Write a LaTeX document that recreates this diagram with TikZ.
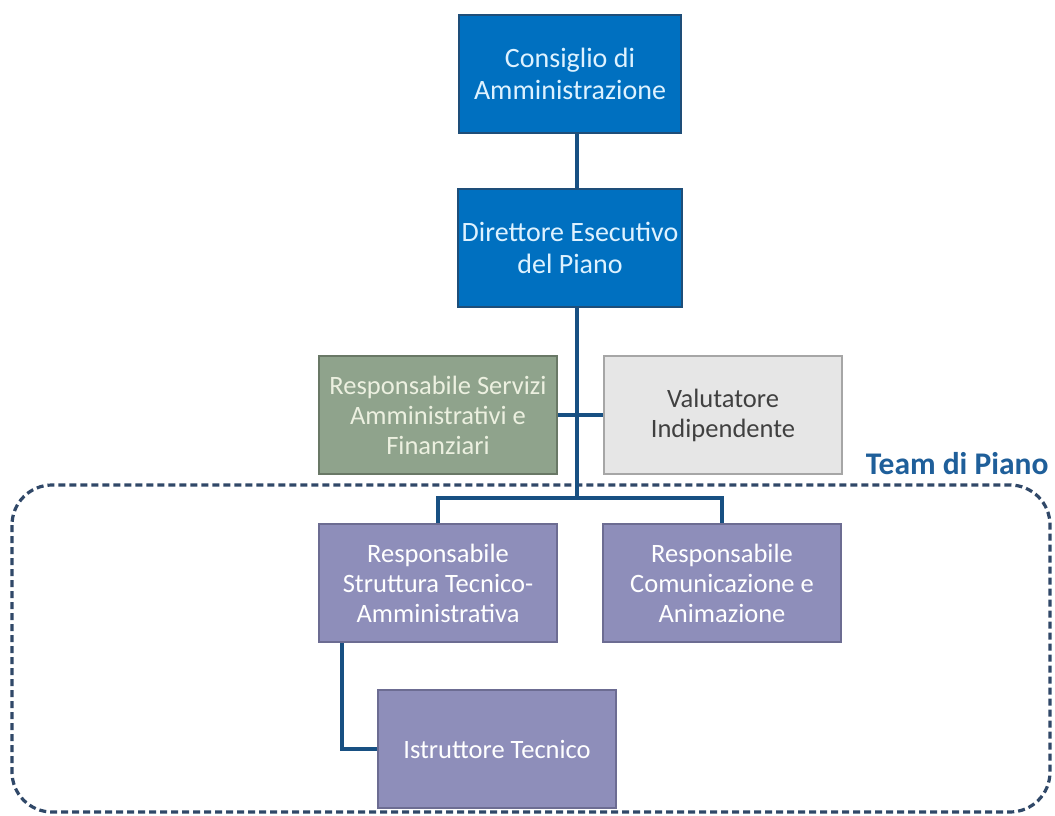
\documentclass[tikz,border=0pt]{standalone}
\usepackage{fontspec}
\setmainfont{Carlito}
\usetikzlibrary{calc}

\definecolor{bluebox}{RGB}{0,112,192}
\definecolor{blueedge}{RGB}{30,78,121}
\definecolor{bluetext}{RGB}{222,242,255}
\definecolor{greenbox}{RGB}{143,163,140}
\definecolor{greenedge}{RGB}{105,120,102}
\definecolor{greentext}{RGB}{236,240,224}
\definecolor{greybox}{RGB}{230,230,230}
\definecolor{greyedge}{RGB}{166,166,166}
\definecolor{greytext}{RGB}{64,64,64}
\definecolor{lilacbox}{RGB}{142,142,186}
\definecolor{lilacedge}{RGB}{108,108,146}
\definecolor{linkblue}{RGB}{24,80,130}
\definecolor{teamdash}{RGB}{48,72,104}
\definecolor{teamblue}{RGB}{31,95,154}

\tikzset{
  box/.style={draw, line width=2pt, minimum width=238pt, minimum height=118pt,
    align=center, inner sep=4pt, font=\fontsize{26.5}{30}\selectfont},
  topbox/.style={box, fill=bluebox, draw=blueedge, text=bluetext, minimum width=222pt,
    font=\fontsize{28}{32}\selectfont},
  adminbox/.style={box, fill=greenbox, draw=greenedge, text=greentext},
  evalbox/.style={box, fill=greybox, draw=greyedge, text=greytext},
  teambox/.style={box, fill=lilacbox, draw=lilacedge, text=white},
  link/.style={draw=linkblue, line width=3.5pt},
}

\begin{document}
\begin{tikzpicture}[x=1pt, y=-1pt]
    \useasboundingbox[fill=white] (0,0) rectangle (1055,816);
    \coordinate(spine)at(577,0);
    \coordinate(split)at(577,498);

    % team di piano
    \path[draw=teamdash, line width=3.2pt, dash pattern=on 7pt off 4pt, rounded corners=40pt]
      (12,485) rectangle (1050,812);
    \node[anchor=base east, text=teamblue, font=\fontsize{31.5}{36}\selectfont\bfseries]
      (team) at (1052,474) {Team di Piano};

    % vertici
    \node[topbox] (cda) at (570,74) {Consiglio di\\Amministrazione};
    \node[topbox] (dir) at (570,248) {Direttore Esecutivo\\del Piano};

    % staff
    \node[adminbox] (serv) at (438,415) {Responsabile Servizi\\Amministrativi e\\Finanziari};
    \node[evalbox] (val) at (723,415) {Valutatore\\Indipendente};

    % team
    \node[teambox] (str) at (438,583) {Responsabile\\Struttura Tecnico-\\Amministrativa};
    \node[teambox] (com) at (722,583) {Responsabile\\Comunicazione e\\Animazione};
    \node[teambox] (ist) at (497,749) {Istruttore Tecnico};

    % collegamenti
    \path[link](cda.south -| spine)to(dir.north -| spine);
    \path[link](dir.south -| spine)to(split);
    \path[link](serv.east)to(val.west);
    \path[link](str.north)|-(split)-|(com.north);
    \path[link]([xshift=24pt]str.south west)|-(ist.west);
\end{tikzpicture}
\end{document}
